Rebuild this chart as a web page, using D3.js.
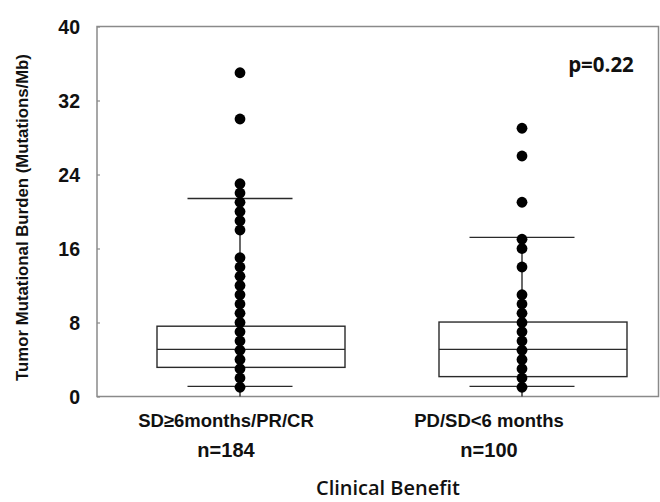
<!DOCTYPE html>
<html>
<head>
<meta charset="utf-8">
<script src="https://cdn.jsdelivr.net/npm/d3@7"></script>
<style>
    body { margin: 0; background: #fff; }
    svg { display: block; }
    .TickLabel, .CatLabel, .AxisTitle { font-family: "Liberation Sans", Arial, sans-serif; font-weight: bold; fill: #111; }
    .Calibri { font-family: "Open Sans", sans-serif; fill: #111; }
</style>
</head>
<body>
<div id="Chart"></div>
<script>
// groups on the x axis
const Categories = ["SD\u22656months/PR/CR", "PD/SD<6 months"];
const GroupSizes = ["n=184", "n=100"];

// box statistics (Mutations/Mb)
const Lower = [1.1, 1.1];
const Q1 = [3.15, 2.15];
const Median = [5.1, 5.1];
const Q3 = [7.6, 8.05];
const Upper = [21.4, 17.2];

// the distinct dot values drawn on each group
const Dots1 = [35, 30, 23, 22, 21, 20, 19, 18, 15, 14, 13, 12, 11, 10, 9, 8, 7, 6, 5, 4, 3, 2, 1];
const Dots2 = [29, 26, 21, 17, 16, 14, 11, 10, 9, 8, 7, 6, 5, 4, 3, 2, 1];

const YTicks = [0, 8, 16, 24, 32, 40];
const PValue = "p=0.22";

const Width = 660;
const Height = 502;
const Frame = {left: 97, right: 658.5, top: 26.5, bottom: 396.5};

let Svg = d3.select("#Chart").append("svg")
    .attr("width", Width).attr("height", Height);

let ScaleY = d3.scaleLinear().domain([0, 40]).range([Frame.bottom, Frame.top]);
// dot columns and the label centres do not line up exactly in the original
let ScaleX = d3.scalePoint().domain(Categories).range([240, 522]);
let ScaleLabel = d3.scalePoint().domain(Categories).range([226, 489]);
const BoxShift = 11;
const BoxWidth = 188;
const CapWidth = 105;

// frame
Svg.append("rect")
    .attr("x", Frame.left).attr("y", Frame.top)
    .attr("width", Frame.right - Frame.left).attr("height", Frame.bottom - Frame.top)
    .attr("fill", "none").attr("stroke", "#8a8a8a").attr("stroke-width", 1.5);

// y axis: ticks inside, labels outside
let AxisY = d3.axisLeft(ScaleY).tickValues(YTicks).tickSizeInner(-3).tickSizeOuter(0).tickPadding(17);
let AxisG = Svg.append("g").attr("transform", `translate(${Frame.left}, 0)`).call(AxisY);
AxisG.select(".domain").remove();
AxisG.selectAll(".tick line").attr("stroke", "#8a8a8a").attr("stroke-width", 1.2);
AxisG.selectAll(".tick text").attr("class", "TickLabel").attr("font-size", 19.5)
    .attr("fill", "#111").attr("dy", "0.36em");

Svg.append("text").attr("class", "AxisTitle")
    .attr("transform", `translate(28, ${(Frame.top + Frame.bottom) / 2 + 6}) rotate(-90)`)
    .attr("text-anchor", "middle").attr("font-size", 16.8)
    .text("Tumor Mutational Burden (Mutations/Mb)");

const AllDots = [Dots1, Dots2];

Categories.forEach((cat, i) => {
    let cx = ScaleX(cat);
    let bx = cx + BoxShift;
    let G = Svg.append("g").attr("stroke", "#2a2a2a").attr("stroke-width", 1.4).attr("fill", "none");

    // drop line through the dots
    G.append("line")
        .attr("x1", cx).attr("x2", cx)
        .attr("y1", ScaleY(0)).attr("y2", ScaleY(Upper[i]));
    // whisker caps
    [Lower[i], Upper[i]].forEach(v => {
        G.append("line")
            .attr("x1", cx - CapWidth / 2).attr("x2", cx + CapWidth / 2)
            .attr("y1", ScaleY(v)).attr("y2", ScaleY(v));
    });
    // box and median
    G.append("rect")
        .attr("x", bx - BoxWidth / 2).attr("width", BoxWidth)
        .attr("y", ScaleY(Q3[i])).attr("height", ScaleY(Q1[i]) - ScaleY(Q3[i]));
    G.append("line")
        .attr("x1", bx - BoxWidth / 2).attr("x2", bx + BoxWidth / 2)
        .attr("y1", ScaleY(Median[i])).attr("y2", ScaleY(Median[i]));

    // dots
    Svg.append("g").selectAll("circle").data(AllDots[i]).join("circle")
        .attr("cx", cx).attr("cy", d => ScaleY(d)).attr("r", 5.4)
        .attr("fill", "#000");

    // category labels
    Svg.append("text").attr("class", "CatLabel")
        .attr("x", ScaleLabel(cat)).attr("y", 427)
        .attr("text-anchor", "middle").attr("font-size", 18.5)
        .text(cat);
    Svg.append("text").attr("class", "CatLabel")
        .attr("x", ScaleLabel(cat)).attr("y", 457)
        .attr("text-anchor", "middle").attr("font-size", 20)
        .text(GroupSizes[i]);
});

Svg.append("text").attr("class", "Calibri")
    .attr("x", 388).attr("y", 495).attr("text-anchor", "middle")
    .attr("font-size", 20).attr("font-weight", 600)
    .text("Clinical Benefit");

Svg.append("text").attr("class", "Calibri")
    .attr("x", 601).attr("y", 72).attr("text-anchor", "middle")
    .attr("font-size", 20.5).attr("font-weight", 700)
    .text(PValue);
</script>
</body>
</html>
